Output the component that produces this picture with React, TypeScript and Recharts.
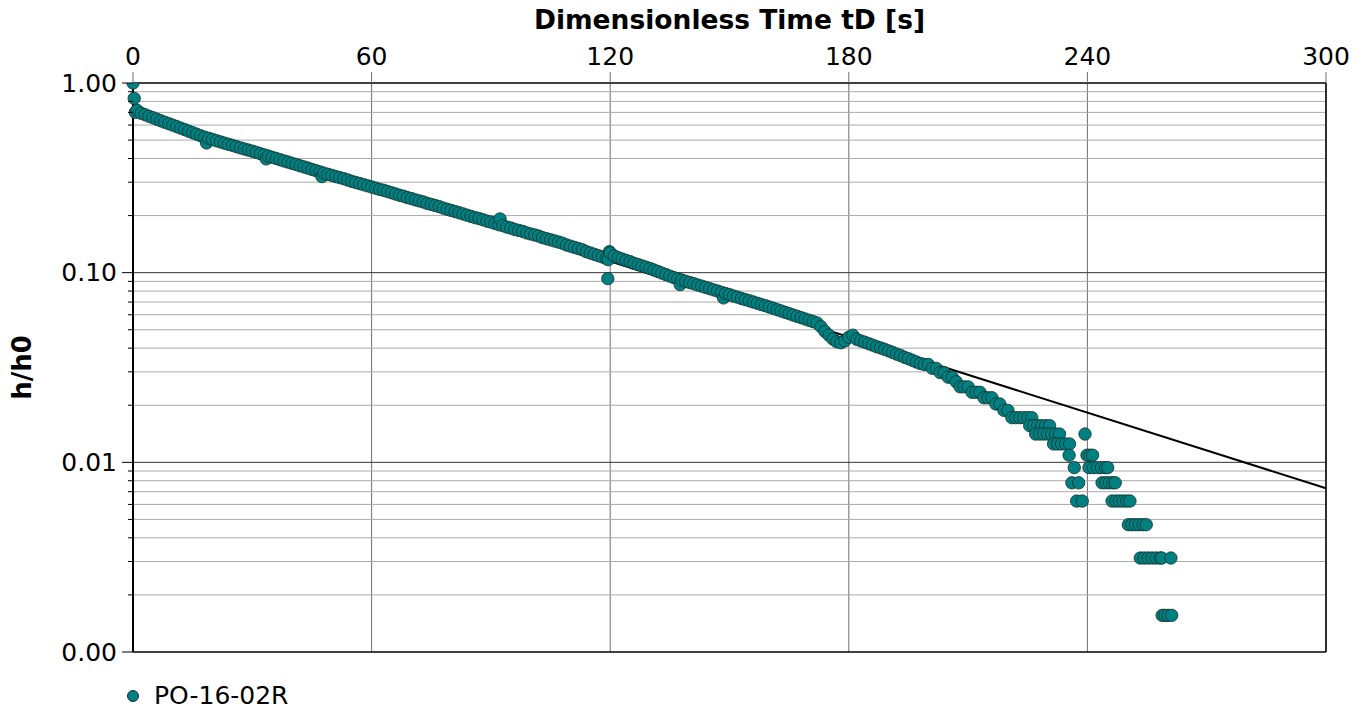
import {
  ComposedChart,
  Scatter,
  Line,
  XAxis,
  YAxis,
  CartesianGrid,
  ReferenceLine,
} from "recharts";

// measured slug test: elapsed time tD [s] and normalised head h/h0
const tD = [
  0, 0.3, 0.6, 1, 2, 3, 4, 5, 6, 7, 8, 9, 10, 11, 12, 13, 14, 15, 16, 17, 18, 18.5,
  19, 20, 21, 22, 23, 24, 25, 26, 27, 28, 29, 30, 31, 32, 33, 33.5,
  34, 35, 36, 37, 38, 39, 40, 41, 42, 43, 44, 45, 46, 47, 47.5,
  48, 49, 50, 51, 52, 53, 54, 55, 56, 57, 58, 59, 60,
  61, 62, 63, 64, 65, 66, 67, 68, 69, 70, 71, 72, 73, 74, 75, 76, 77, 78, 79,
  80, 81, 82, 83, 84, 85, 86, 87, 88, 89, 90, 91, 92, 92.3,
  93, 94, 95, 96, 97, 98, 99, 100, 101, 102, 103, 104, 105,
  106, 107, 108, 109, 110, 111, 112, 113, 114, 115, 116, 117, 118, 119, 119.4, 119.5, 119.8,
  120, 121, 122, 123, 124, 125, 126, 127, 128, 129, 130, 131, 132, 133, 134, 135, 136, 137, 137.6,
  138, 139, 140, 141, 142, 143, 144, 145, 146, 147, 148, 148.5,
  149, 150, 151, 152, 153, 154, 155, 156, 157, 158, 159,
  160, 161, 162, 163, 164, 165, 166, 167, 168, 169, 170, 171, 172,
  173, 174, 175, 176, 177, 178, 179, 180, 181,
  182, 183, 184, 185, 186, 187, 188, 189, 190,
  191, 192, 193, 194, 195, 196, 197, 198,
  199, 200, 201, 202, 203, 204, 205, 206, 207, 208, 209, 210, 211, 212, 213, 214, 215, 216, 217, 218, 219, 220,
  221, 222, 223, 224, 225, 226,
  225.5, 226.5, 227.5, 228.5, 229.5, 230.5,
  227, 228, 229, 230, 231, 232, 233,
  231.5, 232.5, 233.5, 234.5, 235.5,
  235.4, 236.1, 236.7, 237.3, 237.8, 238.7, 239.4,
  239.9, 240.6, 241.3,
  240.4, 241.5, 242.5, 243.5, 244.5, 245.1,
  243.7, 244.6, 245.5, 246.4, 247,
  246.2, 247.2, 248.1, 249, 249.9, 250.7,
  250.3, 251.2, 252.1, 253, 254, 254.8,
  253.3, 254.3, 255.3, 256.3, 257.3, 258.3, 258.7, 261,
  258.8, 259.5, 260.3, 261.2,
];

const hRatio = [
  1.0, 0.83, 0.70, 0.718, 0.693, 0.681, 0.668, 0.656, 0.644, 0.632, 0.621, 0.61, 0.6, 0.589, 0.578, 0.568, 0.557, 0.547, 0.537, 0.527, 0.518, 0.483,
  0.511, 0.504, 0.496, 0.489, 0.482, 0.475, 0.469, 0.462, 0.455, 0.449, 0.443, 0.437, 0.431, 0.424, 0.418, 0.398,
  0.412, 0.406, 0.4, 0.394, 0.388, 0.383, 0.377, 0.372, 0.366, 0.361, 0.356, 0.35, 0.345, 0.34, 0.321,
  0.335, 0.33, 0.326, 0.321, 0.317, 0.313, 0.308, 0.303, 0.299, 0.295, 0.291, 0.287, 0.283,
  0.279, 0.275, 0.272, 0.268, 0.264, 0.26, 0.256, 0.253, 0.249, 0.246, 0.242, 0.239, 0.236, 0.232, 0.229, 0.226, 0.223, 0.219, 0.216,
  0.213, 0.21, 0.207, 0.204, 0.201, 0.198, 0.195, 0.193, 0.19, 0.187, 0.185, 0.182, 0.179, 0.192,
  0.177, 0.174, 0.172, 0.169, 0.167, 0.165, 0.162, 0.16, 0.158, 0.156, 0.153, 0.151, 0.149,
  0.147, 0.145, 0.143, 0.14, 0.138, 0.136, 0.134, 0.132, 0.129, 0.127, 0.125, 0.123, 0.121, 0.119, 0.093, 0.117, 0.129,
  0.127, 0.1225, 0.12, 0.118, 0.116, 0.1143, 0.112, 0.1104, 0.1086, 0.1069, 0.1052, 0.1033, 0.1014, 0.0995, 0.0977, 0.0959, 0.0942, 0.0927, 0.0865,
  0.0914, 0.09, 0.0887, 0.0875, 0.0861, 0.0849, 0.0836, 0.0824, 0.0811, 0.08, 0.0787, 0.0736,
  0.0776, 0.0766, 0.0753, 0.0743, 0.0731, 0.0721, 0.0711, 0.07, 0.069, 0.0679, 0.067,
  0.0659, 0.0649, 0.0638, 0.0628, 0.0618, 0.0608, 0.0598, 0.0589, 0.0579, 0.057, 0.0561, 0.0552, 0.0543,
  0.0519, 0.049, 0.0468, 0.0447, 0.0432, 0.0427, 0.0437, 0.0457, 0.0468,
  0.0445, 0.0437, 0.043, 0.0422, 0.0415, 0.0407, 0.0401, 0.0394, 0.0387,
  0.038, 0.0372, 0.0366, 0.0358, 0.0352, 0.0345, 0.0338, 0.0332,
  0.0328, 0.0328, 0.0313, 0.0313, 0.0297, 0.0297, 0.0281, 0.0281, 0.0266, 0.025, 0.025, 0.025, 0.0234, 0.0234, 0.0234, 0.0219, 0.0219, 0.0219, 0.0203, 0.0203, 0.0188, 0.0188,
  0.0172, 0.0172, 0.0172, 0.0172, 0.0172, 0.0172,
  0.0156, 0.0156, 0.0156, 0.0156, 0.0156, 0.0156,
  0.0141, 0.0141, 0.0141, 0.0141, 0.0141, 0.0141, 0.0141,
  0.0125, 0.0125, 0.0125, 0.0125, 0.0125,
  0.0109, 0.0078, 0.00938, 0.00625, 0.0078, 0.00625, 0.0141,
  0.0109, 0.0109, 0.0109,
  0.00938, 0.00938, 0.00938, 0.00938, 0.00938, 0.00938,
  0.0078, 0.0078, 0.0078, 0.0078, 0.0078,
  0.00625, 0.00625, 0.00625, 0.00625, 0.00625, 0.00625,
  0.00469, 0.00469, 0.00469, 0.00469, 0.00469, 0.00469,
  0.00313, 0.00313, 0.00313, 0.00313, 0.00313, 0.00313, 0.00313, 0.00313,
  0.00156, 0.00156, 0.00156, 0.00156,
];

// straight-line fit drawn through the early data
const fitT = [0, 300];
const fitH = [0.72, 0.0073];

const xTicks = [0, 60, 120, 180, 240, 300];
const majorTicks = [0.001, 0.01, 0.1, 1];
const minorTicks = [
  0.002, 0.003, 0.004, 0.005, 0.006, 0.007, 0.008, 0.009,
  0.02, 0.03, 0.04, 0.05, 0.06, 0.07, 0.08, 0.09,
  0.2, 0.3, 0.4, 0.5, 0.6, 0.7, 0.8, 0.9,
];

const seriesName = "PO-16-02R";
const FONT = "'DejaVu Sans', Verdana, sans-serif";
const TEAL = "#008080";

const points = tD.map((t, i) => ({ t, v: hRatio[i] }));
const fit = fitT.map((t, i) => ({ t, v: fitH[i] }));

function YTick({ x, y, payload }: any) {
  const major = majorTicks.includes(payload.value);
  return (
    <g>
      <line x1={x - (major ? 11 : 5)} x2={x} y1={y} y2={y} stroke="#000" strokeWidth={1} />
      {major && (
        <text
          x={x - 16}
          y={y}
          textAnchor="end"
          dominantBaseline="central"
          fontSize={25}
          fontFamily={FONT}
          fill="#000"
        >
          {payload.value.toFixed(2)}
        </text>
      )}
    </g>
  );
}

function XTitle({ viewBox }: any) {
  return (
    <text
      x={viewBox.x + viewBox.width / 2}
      y={29}
      textAnchor="middle"
      fontSize={26.5}
      fontWeight="bold"
      fontFamily={FONT}
      fill="#000"
    >
      Dimensionless Time tD [s]
    </text>
  );
}

function YTitle({ viewBox }: any) {
  const cy = viewBox.y + viewBox.height / 2;
  return (
    <text
      x={22}
      y={cy}
      transform={`rotate(-90, 22, ${cy})`}
      textAnchor="middle"
      dominantBaseline="central"
      fontSize={26}
      fontWeight="bold"
      fontFamily={FONT}
      fill="#000"
    >
      h/h0
    </text>
  );
}

const dot = (p: any) => (
  <circle cx={p.cx} cy={p.cy} r={6.2} fill={TEAL} stroke="#10302f" strokeWidth={0.8} />
);

export default function App() {
  return (
    <div style={{ position: "relative", width: 1370, height: 713, fontFamily: FONT }}>
      <style>{"html,body{margin:0;overflow:hidden;background:#fff}"}</style>
      <ComposedChart
        width={1370}
        height={713}
        margin={{ top: 0, right: 44, bottom: 61, left: 0 }}
      >
        <CartesianGrid horizontal={false} stroke="#6e6e6e" />
        <XAxis
          type="number"
          dataKey="t"
          orientation="top"
          domain={[0, 300]}
          ticks={xTicks}
          interval={0}
          height={83}
          tickSize={11}
          tickMargin={7}
          tickLine={{ stroke: "#6e6e6e" }}
          axisLine={{ stroke: "#000", strokeWidth: 1.5 }}
          tick={{ fontSize: 25, fill: "#000", fontFamily: FONT }}
          label={<XTitle />}
        />
        <YAxis
          type="number"
          dataKey="v"
          scale="log"
          domain={[0.001, 1]}
          allowDataOverflow
          ticks={[...majorTicks, ...minorTicks]}
          interval={0}
          width={133}
          tickSize={0}
          tickMargin={0}
          tickLine={false}
          axisLine={{ stroke: "#000", strokeWidth: 2 }}
          tick={<YTick />}
          label={<YTitle />}
        />
        {minorTicks.map((v) => (
          <ReferenceLine key={"m" + v} y={v} stroke="#aaa" strokeWidth={1} />
        ))}
        <ReferenceLine y={0.01} stroke="#333" strokeWidth={1} />
        <ReferenceLine y={0.1} stroke="#333" strokeWidth={1} />
        <ReferenceLine y={0.001} stroke="#000" strokeWidth={1.5} />
        <ReferenceLine x={300} stroke="#000" strokeWidth={1.5} />
        <Line
          data={fit}
          dataKey="v"
          type="linear"
          stroke="#000"
          strokeWidth={2}
          dot={false}
          activeDot={false}
          isAnimationActive={false}
        />
        <Scatter
          data={points}
          dataKey="v"
          name={seriesName}
          shape={dot}
          isAnimationActive={false}
        />
      </ComposedChart>
      <div
        style={{
          position: "absolute",
          left: 127,
          top: 681,
          display: "flex",
          alignItems: "center",
          fontSize: 25,
          color: "#000",
        }}
      >
        <span
          style={{
            display: "inline-block",
            width: 10,
            height: 10,
            borderRadius: "50%",
            background: TEAL,
            border: "1px solid #10302f",
            marginRight: 15,
          }}
        />
        {seriesName}
      </div>
    </div>
  );
}
